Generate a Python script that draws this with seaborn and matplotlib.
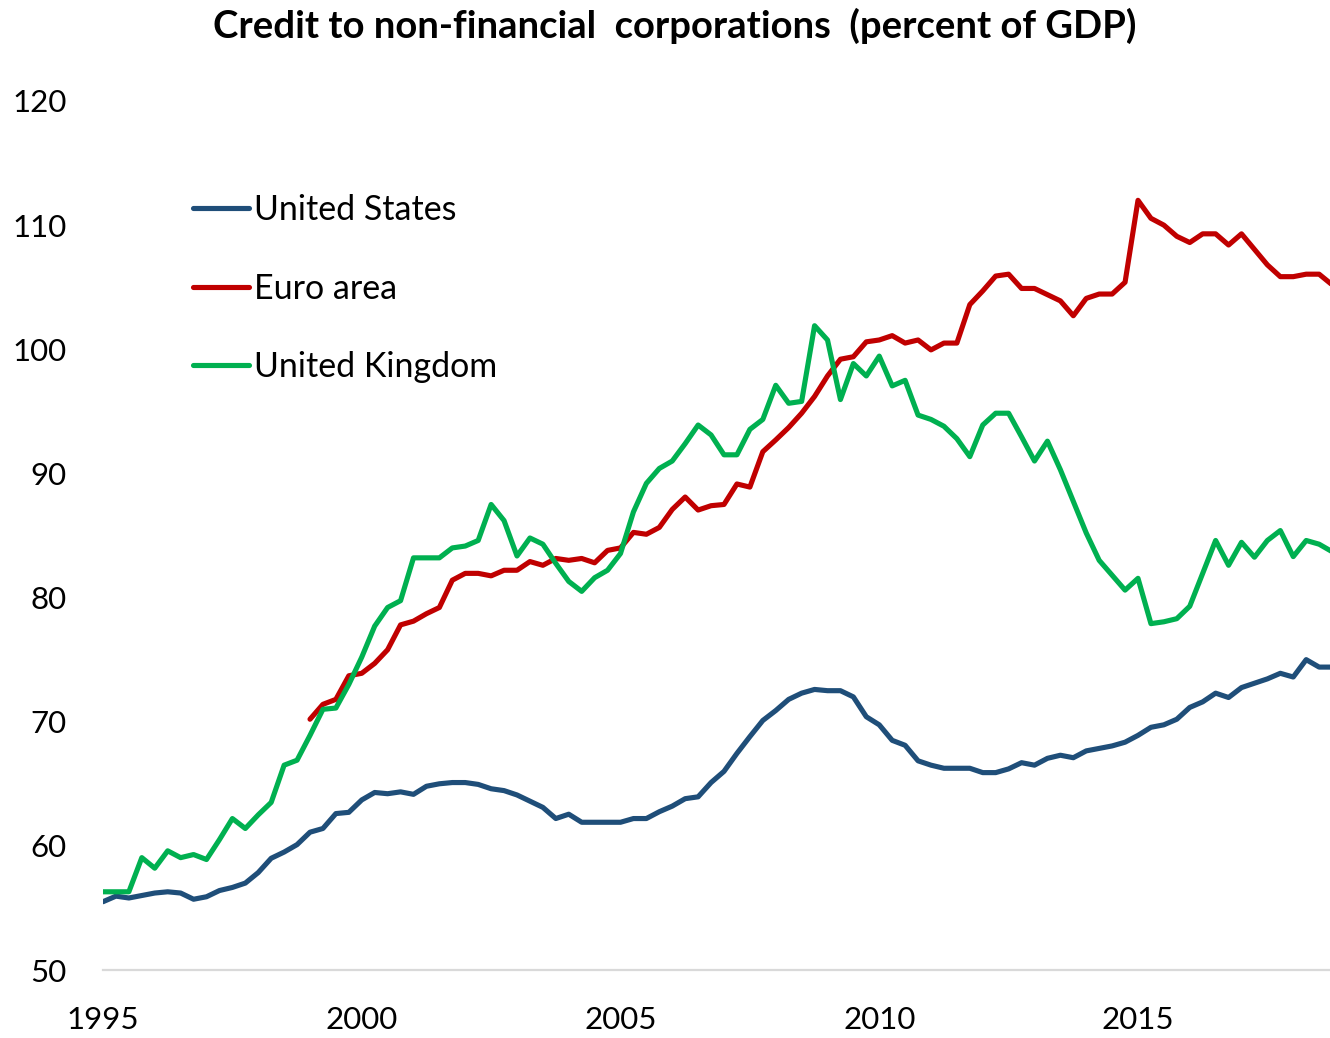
import numpy as np
import pandas as pd
import matplotlib
matplotlib.use("Agg")
import matplotlib.pyplot as plt
import seaborn as sns

# Quarterly observations, 1995Q1 .. 2018Q4 (percent of GDP)
start_year = 1995
n_quarters = 96

united_states = [
    55.5, 55.95, 55.8, 56.0, 56.2, 56.3, 56.2, 55.7, 55.9, 56.4, 56.65, 57.0,
    57.85, 59.0, 59.5, 60.1, 61.1, 61.4, 62.6, 62.7, 63.7, 64.3, 64.2, 64.35,
    64.15, 64.8, 65.0, 65.1, 65.1, 64.95, 64.6, 64.45, 64.1, 63.6, 63.1, 62.2,
    62.55, 61.9, 61.9, 61.9, 61.9, 62.2, 62.2, 62.75, 63.2, 63.8, 63.95, 65.1,
    66.0, 67.45, 68.8, 70.1, 70.9, 71.8, 72.3, 72.6, 72.5, 72.5, 72.0, 70.4,
    69.75, 68.5, 68.1, 66.85, 66.5, 66.25, 66.25, 66.25, 65.9, 65.9, 66.2, 66.7,
    66.5, 67.05, 67.3, 67.1, 67.65, 67.85, 68.05, 68.35, 68.9, 69.55, 69.75, 70.2,
    71.15, 71.6, 72.3, 71.95, 72.75, 73.1, 73.45, 73.9, 73.6, 75.0, 74.4, 74.4,
]

euro_area = [np.nan] * 16 + [
    70.2, 71.4, 71.8, 73.7, 73.9, 74.7, 75.8, 77.8,
    78.1, 78.7, 79.2, 81.4, 81.95, 81.95, 81.75, 82.2, 82.2, 82.9, 82.6, 83.15,
    83.0, 83.15, 82.8, 83.8, 84.0, 85.25, 85.1, 85.65, 87.1, 88.1, 87.05, 87.4,
    87.5, 89.15, 88.9, 91.75, 92.7, 93.7, 94.85, 96.2, 97.85, 99.2, 99.4, 100.6,
    100.75, 101.1, 100.5, 100.75, 99.95, 100.5, 100.5, 103.6, 104.7, 105.9, 106.05, 104.9,
    104.9, 104.4, 103.9, 102.7, 104.1, 104.45, 104.45, 105.4, 112.0, 110.55, 110.0, 109.1,
    108.6, 109.3, 109.3, 108.4, 109.3, 108.05, 106.8, 105.85, 105.85, 106.05, 106.05, 105.2,
]

united_kingdom = [
    56.3, 56.3, 56.3, 59.05, 58.2, 59.6, 59.05, 59.3, 58.9, 60.5, 62.2, 61.4,
    62.5, 63.5, 66.5, 66.9, 68.9, 71.0, 71.1, 73.0, 75.2, 77.7, 79.2, 79.75,
    83.2, 83.2, 83.2, 84.0, 84.15, 84.6, 87.5, 86.2, 83.35, 84.8, 84.3, 82.75,
    81.3, 80.5, 81.6, 82.2, 83.55, 86.9, 89.2, 90.4, 91.0, 92.4, 93.9, 93.1,
    91.5, 91.5, 93.55, 94.35, 97.1, 95.65, 95.8, 101.9, 100.75, 95.95, 98.85, 97.85,
    99.45, 97.05, 97.5, 94.7, 94.35, 93.8, 92.8, 91.35, 93.9, 94.85, 94.85, 92.95,
    91.0, 92.6, 90.3, 87.75, 85.2, 83.0, 81.8, 80.6, 81.55, 77.9, 78.05, 78.3,
    79.3, 81.95, 84.6, 82.6, 84.45, 83.25, 84.6, 85.4, 83.3, 84.6, 84.3, 83.7,
]

series_names = ["United States", "Euro area", "United Kingdom"]
series_colors = ["#1F4E79", "#C00000", "#00B050"]
year_ticks = [1995, 2000, 2005, 2010, 2015]
value_ticks = [50, 60, 70, 80, 90, 100, 110, 120]
title_text = "Credit to non-financial  corporations  (percent of GDP)"

dates = start_year + np.arange(n_quarters) / 4.0
frames = []
for name, values in zip(series_names, [united_states, euro_area, united_kingdom]):
    frames.append(pd.DataFrame({"date": dates, "value": values, "series": name}))
df = pd.concat(frames, ignore_index=True)

sns.set_theme(style="white")
plt.rcParams["font.family"] = ["Lato", "DejaVu Sans"]
plt.rcParams["text.color"] = "black"

W, H = 1330, 1038
fig = plt.figure(figsize=(W / 100, H / 100), dpi=100)
ax = fig.add_axes([103 / W, 1 - 970 / H, (W - 103) / W, (970 - 101) / H])

sns.lineplot(
    data=df, x="date", y="value", hue="series", hue_order=series_names,
    palette=series_colors, linewidth=3.7, ax=ax, legend=True,
)

ax.set_xlim(1995, 1995 + (W - 103) / 51.75)
ax.set_ylim(50, 120)
ax.set_xticks(year_ticks)
ax.set_xticklabels([str(y) for y in year_ticks])
ax.set_yticks(value_ticks)
ax.set_yticklabels([str(v) for v in value_ticks])
ax.set_xlabel("")
ax.set_ylabel("")

for side in ["left", "top", "right"]:
    ax.spines[side].set_visible(False)
ax.spines["bottom"].set_color("#D9D9D9")
ax.spines["bottom"].set_linewidth(1.6)
ax.tick_params(axis="x", which="major", length=8, width=1.6, color="#D9D9D9",
               direction="out", pad=18, labelsize=22.5, labelcolor="black")
ax.tick_params(axis="y", which="major", length=0, pad=26, labelsize=22.5, labelcolor="black")
ax.grid(False)

sns.move_legend(
    ax, "upper left", bbox_to_anchor=(193 / W, 1 - 194 / H),
    bbox_transform=fig.transFigure, frameon=False, title=None,
    fontsize=24.5, handlelength=1.65, handletextpad=0.15, labelspacing=1.37,
    borderpad=0, borderaxespad=0,
)
legend = ax.get_legend()
for line in legend.get_lines():
    line.set_linewidth(3.7)
for txt in legend.get_texts():
    txt.set_color("black")

fig.text(0.5 + 10 / W, 1 - 26 / H, title_text, ha="center", va="center",
         fontsize=27.5, fontweight="bold", color="black")

fig.savefig("out.png", dpi=100)
